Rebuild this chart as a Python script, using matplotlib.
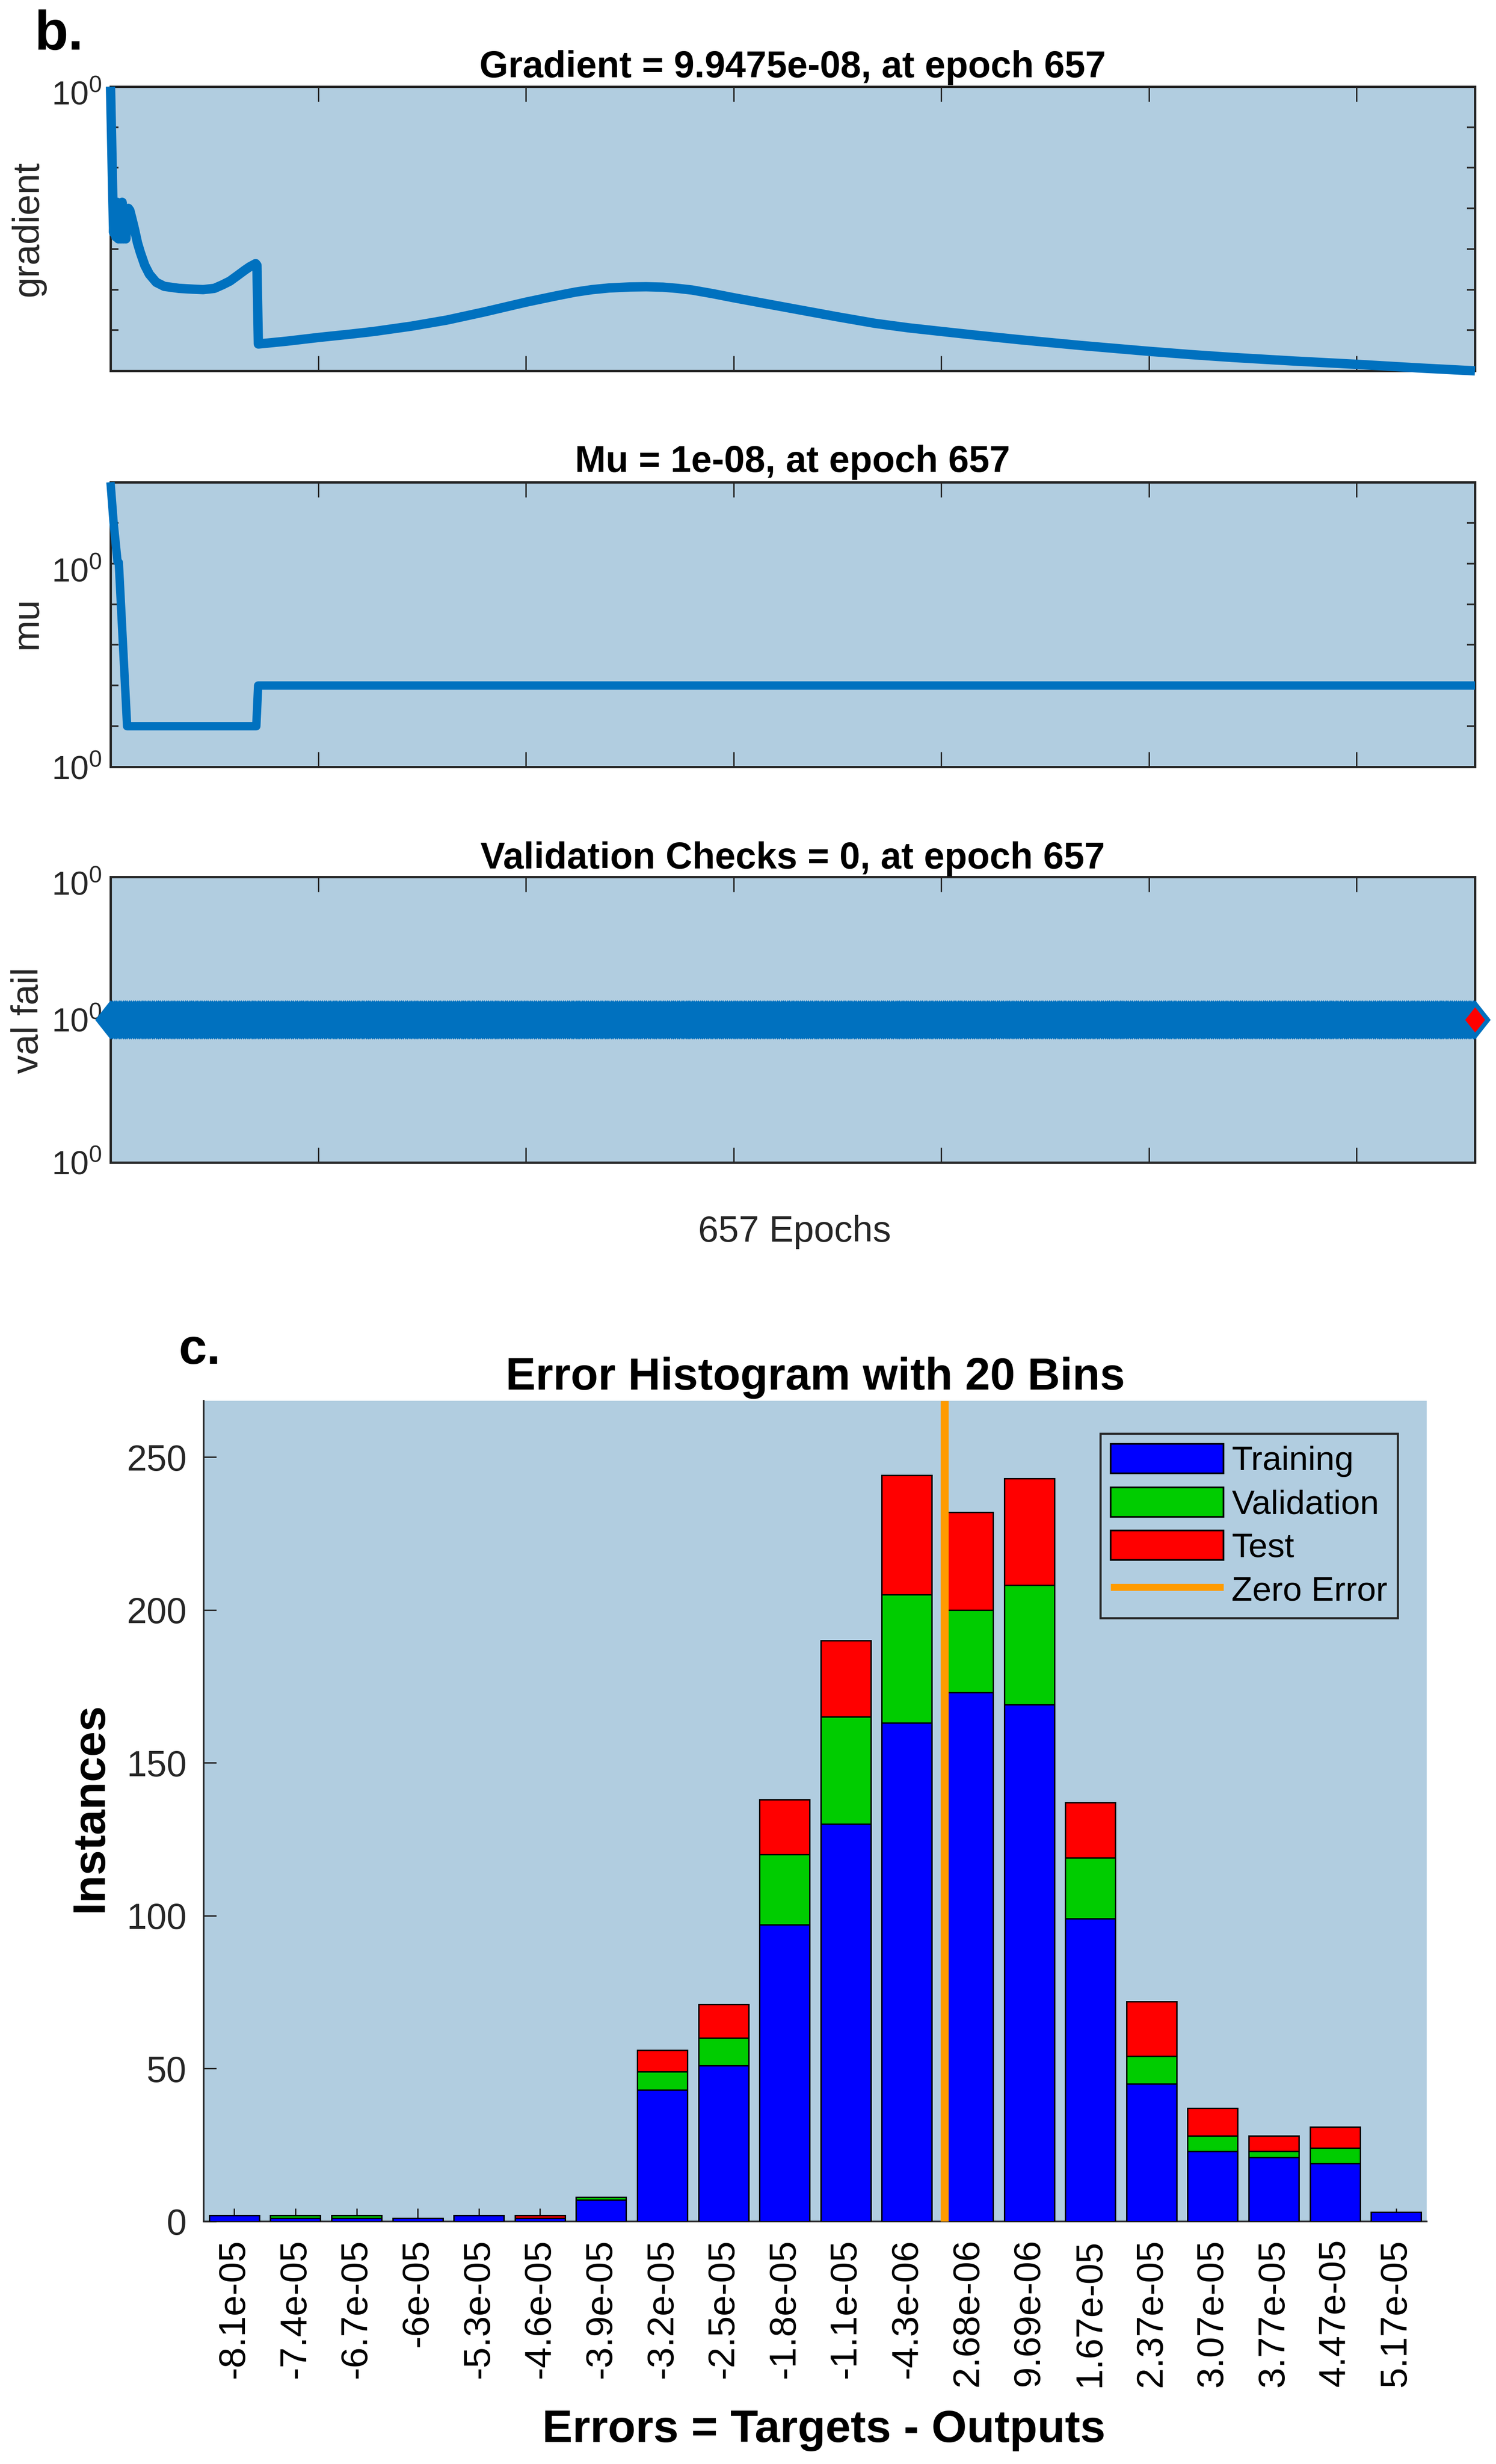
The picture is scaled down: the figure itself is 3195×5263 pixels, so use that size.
import numpy as np
import matplotlib
matplotlib.use("Agg")
import matplotlib.pyplot as plt
from matplotlib.patches import Patch
from matplotlib.lines import Line2D
from matplotlib.transforms import ScaledTranslation

plt.rcParams['font.family'] = ['Liberation Sans', 'DejaVu Sans']
plt.rcParams['mathtext.fontset'] = 'custom'
plt.rcParams['mathtext.rm'] = 'Liberation Sans'
plt.rcParams['mathtext.default'] = 'regular'

# ---- data ----
grad_epoch = [0, 0.5, 1, 1.5, 2, 2.6, 3.2, 3.8, 4.4, 5, 5.6, 6.2, 6.8, 7.4, 8, 8.6, 9.3, 10.3, 11.5, 13, 14.4,
              16.5, 18.7, 22, 25.9, 33, 40, 44.6, 50, 54, 57.5, 61, 64.7, 67, 69.9, 70.5, 71.2, 85, 100, 115, 127,
              145, 162, 180, 200, 215, 224, 232, 240, 250, 258, 266, 273, 280, 290, 300, 317, 334, 350, 368, 384,
              400, 418, 437, 468, 500, 520, 540, 570, 600, 630, 657]
grad_log10 = [0, -1.2, -2.5, -3.6, -2.9, -3.7, -2.85, -3.75, -2.9, -3.75, -2.85, -3.75, -3.0, -3.75, -3.1, -3.0,
              -3.05, -3.25, -3.5, -3.85, -4.09, -4.4, -4.62, -4.82, -4.92, -4.97, -4.99, -5.0, -4.97, -4.88,
              -4.79, -4.66, -4.52, -4.44, -4.36, -4.4, -6.34, -6.27, -6.18, -6.1, -6.03, -5.9, -5.75, -5.55, -5.31,
              -5.15, -5.06, -5.0, -4.96, -4.935, -4.93, -4.94, -4.97, -5.01, -5.1, -5.2, -5.36, -5.52, -5.67, -5.83,
              -5.94, -6.03, -6.13, -6.23, -6.38, -6.52, -6.6, -6.67, -6.76, -6.84, -6.93, -7.002]
mu_epoch = [0, 1.5, 3.4, 4, 8, 70.2, 71.1, 657]
mu_log10 = [2, 0, -1.92, -1.95, -10, -10, -8, -8]
val_epoch = np.arange(0, 658)
val_fail = np.ones(658)
best_epoch = [657]
best_val = [1]

hist_labels = ['-8.1e-05', '-7.4e-05', '-6.7e-05', '-6e-05', '-5.3e-05', '-4.6e-05', '-3.9e-05', '-3.2e-05',
               '-2.5e-05', '-1.8e-05', '-1.1e-05', '-4.3e-06', '2.68e-06', '9.69e-06', '1.67e-05', '2.37e-05',
               '3.07e-05', '3.77e-05', '4.47e-05', '5.17e-05']
training = [2, 1, 1, 1, 2, 1, 7, 43, 51, 97, 130, 163, 173, 169, 99, 45, 23, 21, 19, 3]
validation = [0, 1, 1, 0, 0, 0, 1, 6, 9, 23, 35, 42, 27, 39, 20, 9, 5, 2, 5, 0]
test = [0, 0, 0, 0, 0, 1, 0, 7, 11, 18, 25, 39, 32, 35, 18, 18, 9, 5, 7, 0]
zero_error_pos = 12.11
hist_yticks = [0, 50, 100, 150, 200, 250]

# ---- style ----
W, H = 3195, 5263
DPI = 100
px = 72.0 / DPI
BG = '#B1CDE0'
DARK = '#262626'
BLUE_LINE = '#0071BF'
LOG_LABEL = r'$10^{0}$'

fig = plt.figure(figsize=(W / DPI, H / DPI), dpi=DPI, facecolor='white')

def make_axes(x0, y0, x1, y1):
    return fig.add_axes([x0 / W, 1 - y1 / H, (x1 - x0) / W, (y1 - y0) / H], facecolor=BG)

def fig_text(x, y, s, **kw):
    return fig.text(x / W, 1 - y / H, s, **kw)

def style_panel(ax, title, title_pad, ylabel, ylabel_x, ylabel_y):
    ax.set_xlim(0, 657)
    ax.set_xticks([100, 200, 300, 400, 500, 600])
    ax.set_xticklabels([])
    ax.tick_params(axis='x', which='major', direction='in', top=True, bottom=True,
                   length=32 * px, width=3 * px, color=DARK)
    ax.tick_params(axis='y', which='major', direction='in', left=True, right=True,
                   length=17 * px, width=3.5 * px, color=DARK, labelsize=71 * px,
                   labelcolor=DARK, pad=19 * px)
    ax.yaxis.set_minor_locator(matplotlib.ticker.NullLocator())
    for s in ax.spines.values():
        s.set_linewidth(5 * px)
        s.set_color(DARK)
    ax.set_title(title, fontsize=79 * px, fontweight='bold', color='black', pad=title_pad * px)
    fig_text(ylabel_x, ylabel_y, ylabel, rotation=90, ha='center', va='center',
             fontsize=80 * px, color=DARK)

def nudge_down(ax, index, pixels):
    lab = ax.yaxis.get_major_ticks()[index].label1
    lab.set_transform(lab.get_transform() + ScaledTranslation(0, -pixels / DPI, fig.dpi_scale_trans))

# ---- panel: gradient ----
ax1 = make_axes(236, 185, 3150, 792)
ax1.set_yscale('log')
ax1.plot(grad_epoch, 10.0 ** np.array(grad_log10), color=BLUE_LINE, lw=20 * px, clip_on=False, zorder=5,
         solid_joinstyle='round', solid_capstyle='butt')
ax1.set_ylim(1e-7, 1)
ax1.set_yticks([1e-7, 1e-6, 1e-5, 1e-4, 1e-3, 1e-2, 1e-1, 1])
ax1.set_yticklabels(['', '', '', '', '', '', '', LOG_LABEL])
style_panel(ax1, 'Gradient = 9.9475e-08, at epoch 657', 20, 'gradient', 60, 488)
nudge_down(ax1, 7, 13)

# ---- panel: mu ----
ax2 = make_axes(236, 1030, 3150, 1638)
ax2.set_yscale('log')
ax2.plot(mu_epoch, 10.0 ** np.array(mu_log10), color=BLUE_LINE, lw=18 * px, clip_on=False, zorder=5,
         solid_joinstyle='round', solid_capstyle='butt')
ax2.set_ylim(1e-12, 1e2)
ax2.set_yticks([1e-12, 1e-10, 1e-8, 1e-6, 1e-4, 1e-2, 1, 1e2])
ax2.set_yticklabels([LOG_LABEL, '', '', '', '', LOG_LABEL, '', ''])
style_panel(ax2, 'Mu = 1e-08, at epoch 657', 22, 'mu', 58, 1330)
nudge_down(ax2, 5, 13)

# ---- panel: validation checks ----
diamond = [(-0.79, 0), (0, 1), (0.79, 0), (0, -1), (-0.79, 0)]
ax3 = make_axes(236, 1873, 3150, 2483)
ax3.set_yscale('log')
ax3.plot(val_epoch, val_fail, color=BLUE_LINE, lw=4 * px, marker=diamond, ms=84 * px, mec=BLUE_LINE,
         mfc=BLUE_LINE, mew=0, ls='-', clip_on=False, zorder=5)
ax3.plot(best_epoch, best_val, ls='none', marker=diamond, ms=54 * px, mfc='#FF0000', mec='#FF0000', mew=0,
         clip_on=False, zorder=6)
ax3.set_ylim(0.1, 10)
ax3.set_yticks([0.1, 1, 10])
ax3.set_yticklabels([LOG_LABEL, LOG_LABEL, LOG_LABEL])
style_panel(ax3, 'Validation Checks = 0, at epoch 657', 18, 'val fail', 60, 2180)
ax3.tick_params(axis='y', length=0)
nudge_down(ax3, 2, 13)
fig_text(1697, 2632, '657 Epochs', ha='center', va='center', fontsize=78 * px, color=DARK)

# ---- histogram ----
ax4 = make_axes(435, 2992, 3047, 4745)
x = np.arange(20) + 0.5
tr = np.array(training)
va = np.array(validation)
te = np.array(test)
bar_kw = dict(width=0.82, edgecolor='black', linewidth=3 * px, zorder=3)
ax4.bar(x, tr, color='#0000FF', **bar_kw)
ax4.bar(x, va, bottom=tr, color='#00CC00', **bar_kw)
ax4.bar(x, te, bottom=tr + va, color='#FF0000', **bar_kw)
ax4.plot([zero_error_pos, zero_error_pos], [0, 268.4], color='#FF9B00', lw=17 * px, zorder=4,
         solid_capstyle='butt')
ax4.set_xlim(0, 20)
ax4.set_ylim(0, 268.4)
ax4.set_xticks(x)
ax4.set_xticklabels(hist_labels, rotation=90, ha='center', va='top')
ax4.set_yticks(hist_yticks)
ax4.tick_params(axis='x', direction='in', length=28 * px, width=3 * px, color=DARK, labelsize=80 * px,
                labelcolor='black', pad=37 * px)
ax4.tick_params(axis='y', direction='in', length=27 * px, width=3 * px, color=DARK, labelsize=77 * px,
                labelcolor=DARK, pad=36 * px)
ax4.set_axisbelow(True)
ax4.spines['top'].set_visible(False)
ax4.spines['right'].set_visible(False)
for s in ('left', 'bottom'):
    ax4.spines[s].set_linewidth(3.5 * px)
    ax4.spines[s].set_color(DARK)
ax4.set_title('Error Histogram with 20 Bins', fontsize=96 * px, fontweight='bold', color='black', pad=24 * px)
fig_text(1759, 5216, 'Errors = Targets - Outputs', ha='center', va='baseline', fontsize=97 * px,
         fontweight='bold', color='black')
fig_text(193, 3860, 'Instances', rotation=90, ha='center', va='center',
         fontsize=97 * px, fontweight='bold', color='black')

handles = [Patch(facecolor='#0000FF', edgecolor='black', linewidth=3.5 * px),
           Patch(facecolor='#00CC00', edgecolor='black', linewidth=3.5 * px),
           Patch(facecolor='#FF0000', edgecolor='black', linewidth=3.5 * px),
           Line2D([0], [0], color='#FF9B00', lw=15 * px, solid_capstyle='butt')]
leg = ax4.legend(handles, ['Training', 'Validation', 'Test', 'Zero Error'], loc='upper left',
                 bbox_to_anchor=(2350 / W, 1 - 3062 / H), bbox_transform=fig.transFigure,
                 fontsize=73 * px, frameon=True, fancybox=False, framealpha=1, facecolor=BG, edgecolor=DARK,
                 handlelength=3.3, handleheight=0.95, handletextpad=0.24, labelspacing=0.29,
                 borderpad=0.3, borderaxespad=0)
leg.get_frame().set_linewidth(4.5 * px)
leg.set_zorder(10)

# ---- panel letters ----
fig_text(73, 106, 'b.', ha='left', va='baseline', fontsize=118 * px, fontweight='bold', color='black')
fig_text(382, 2913, 'c.', ha='left', va='baseline', fontsize=108 * px, fontweight='bold', color='black')

fig.savefig('out.png', dpi=DPI, facecolor='white')
